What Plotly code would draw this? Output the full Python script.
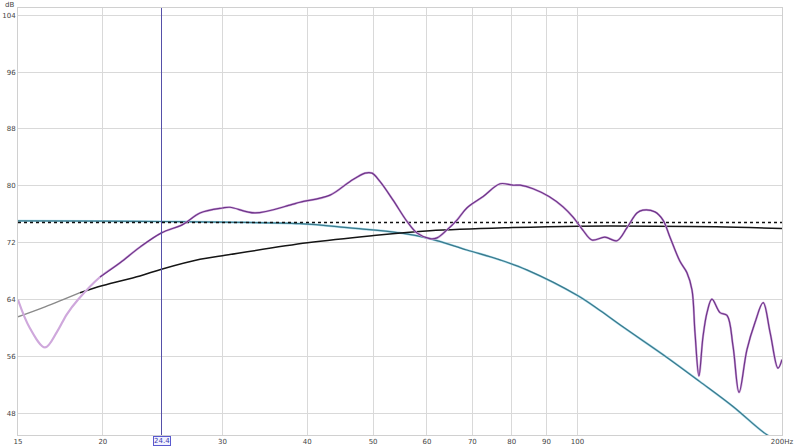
import numpy as np
import plotly.graph_objects as go

# ---- data ----
meas_f = [15.0, 15.62, 16.44, 17.12, 17.71, 18.38, 19.81, 21.2, 22.68, 24.4, 26.25, 27.8,
          30.0, 30.78, 33.5, 37.7, 39.03, 43.2, 46.2, 48.65, 49.8, 51.2, 53.5, 56.1,
          58.0, 60.6, 62.1, 64.2, 66.45, 68.7, 72.6, 76.9, 80.3, 82.3, 86.0, 90.8,
          95.2, 98.5, 101.8, 105.0, 109.7, 114.3, 118.2, 122.3, 124.8, 130.0, 133.6,
          136.8, 141.5, 144.9, 147.4, 148.9, 150.9, 153.0, 155.1, 157.7, 162.1, 166.0,
          169.4, 172.9, 177.6, 182.5, 187.6, 192.1, 197.3, 200.0]
meas_db = [64.0, 60.0, 57.3, 59.5, 62.0, 64.0, 67.2, 69.2, 71.4, 73.4, 74.6, 76.2,
           76.9, 77.0, 76.2, 77.3, 77.7, 78.7, 80.6, 81.8, 81.8, 80.6, 78.0, 75.0,
           73.4, 72.6, 72.7, 73.8, 75.2, 76.9, 78.5, 80.3, 80.1, 80.1, 79.6, 78.5,
           77.05, 75.6, 73.8, 72.4, 72.8, 72.3, 74.1, 76.2, 76.6, 76.35, 75.2,
           72.8, 69.4, 67.8, 65.4, 59.4, 53.3, 58.8, 62.2, 64.1, 62.2, 61.8,
           57.5, 51.0, 57.0, 60.8, 63.6, 59.4, 54.4, 55.6]

sim_f = [15.0, 16.44, 18.51, 20.0, 22.68, 24.4, 27.8, 30.0, 40.0, 49.8, 60.6, 80.3,
         100.0, 130.0, 160.0, 200.0]
sim_db = [61.6, 63.0, 65.0, 66.0, 67.35, 68.3, 69.7, 70.2, 72.0, 73.0, 73.7, 74.15,
          74.35, 74.35, 74.25, 74.0]

target_f = [15.0, 20.0, 24.4, 30.0, 39.0, 46.2, 54.8, 60.6, 68.7, 76.9, 84.2, 100.0,
            107.9, 116.6, 135.4, 151.4, 169.4, 188.3, 200.0]
target_db = [75.1, 75.05, 75.0, 74.9, 74.7, 74.1, 73.4, 72.6, 71.0, 69.6, 68.2, 64.6,
             62.5, 60.2, 55.9, 52.5, 49.0, 45.3, 43.8]

level_f = [15.0, 200.0]
level_db = [74.85, 74.85]

cursor_f = 24.4

x_ticks = [15, 20, 30, 40, 50, 60, 70, 80, 90, 100, 200]
x_labels = ["15", "20", "30", "40", "50", "60", "70", "80", "90", "100", "200Hz"]
y_ticks = [48, 56, 64, 72, 80, 88, 96, 104]

fig = go.Figure()

# target curve: light blue base with teal overlay
fig.add_trace(go.Scatter(x=target_f, y=target_db, mode="lines",
                         line=dict(color="#a6d8ea", width=2.2, shape="spline"),
                         hoverinfo="skip"))
fig.add_trace(go.Scatter(x=target_f, y=target_db, mode="lines",
                         line=dict(color="#26697a", width=1.2, shape="spline"),
                         opacity=0.85, hoverinfo="skip"))

# dotted level line
fig.add_trace(go.Scatter(x=level_f, y=level_db, mode="lines",
                         line=dict(color="#111111", width=1.4, dash="dot"),
                         hoverinfo="skip"))

# simulated curve: grey at start, black after
split = 3
fig.add_trace(go.Scatter(x=sim_f[:split], y=sim_db[:split], mode="lines",
                         line=dict(color="#8a8a8a", width=1.5, shape="spline"),
                         hoverinfo="skip"))
fig.add_trace(go.Scatter(x=sim_f[split - 1:], y=sim_db[split - 1:], mode="lines",
                         line=dict(color="#151515", width=1.5, shape="spline"),
                         hoverinfo="skip"))

# measured curve: lilac base, purple overlay from ~19 Hz
fig.add_trace(go.Scatter(x=meas_f, y=meas_db, mode="lines",
                         line=dict(color="#cfa8dc", width=2.2, shape="spline"),
                         hoverinfo="skip"))
k0 = 6
fig.add_trace(go.Scatter(x=meas_f[k0:], y=meas_db[k0:], mode="lines",
                         line=dict(color="#6e3589", width=1.2, shape="spline"),
                         hoverinfo="skip"))

# cursor line
fig.add_shape(type="line", xref="x", yref="paper", x0=cursor_f, x1=cursor_f, y0=0, y1=1,
              line=dict(color="#5550a8", width=1))

fig.add_annotation(x=np.log10(cursor_f), xref="x", y=0, yref="paper", yanchor="top",
                   text="24.4", showarrow=False, yshift=-1,
                   font=dict(size=7, color="#3b3bb0", family="DejaVu Sans"),
                   bordercolor="#5a5ad0", borderwidth=1, borderpad=0, bgcolor="#f2f2ff")

fig.add_annotation(x=0, xref="paper", y=1, yref="paper", xanchor="right", yanchor="bottom",
                   text="dB", showarrow=False, xshift=-2, yshift=-3,
                   font=dict(size=7, color="#444444", family="DejaVu Sans"))

fig.update_layout(
    width=800, height=446,
    margin=dict(l=18, r=18, t=8, b=11),
    paper_bgcolor="white", plot_bgcolor="white",
    showlegend=False,
    font=dict(family="DejaVu Sans", size=7, color="#444444"),
)
fig.update_xaxes(type="log", range=[np.log10(15), np.log10(200)],
                 tickvals=x_ticks, ticktext=x_labels, showgrid=True,
                 gridcolor="#d9d9d9", gridwidth=1, zeroline=False,
                 showline=True, linecolor="#d0d0d0", mirror=True,
                 ticks="", ticklen=0, automargin=False,
                 tickfont=dict(size=7, color="#444444"))
fig.update_yaxes(range=[45, 105], tickvals=y_ticks, showgrid=True,
                 gridcolor="#d9d9d9", gridwidth=1, zeroline=False,
                 showline=True, linecolor="#d0d0d0", mirror=True,
                 ticks="", ticklen=0, automargin=False,
                 tickfont=dict(size=7, color="#444444"))

fig.write_html("out.html", config={"displayModeBar": False},
               post_script="document.body.style.margin='0';document.body.style.overflow='hidden';")
